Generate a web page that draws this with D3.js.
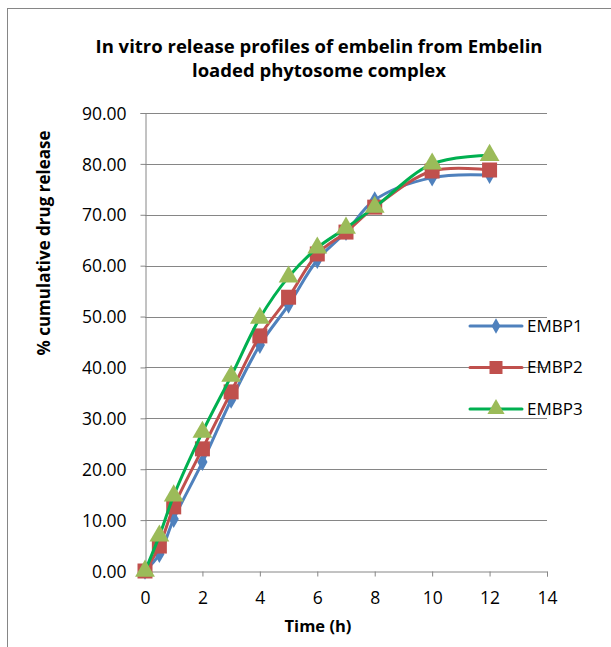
<!DOCTYPE html>
<html>
<head>
<meta charset="utf-8">
<script src="https://cdn.jsdelivr.net/npm/d3@7"></script>
<style>
  body { margin: 0; background: #fff; }
  text { font-family: "Open Sans", "Noto Sans", sans-serif; fill: #000; }
</style>
</head>
<body>
<div id="chart"></div>
<script>
// Data
const hours = [0, 0.5, 1, 2, 3, 4, 5, 6, 7, 8, 10, 12];
const embp1 = [0, 3.3, 10.2, 21.4, 33.6, 44.4, 52.3, 61.1, 66.6, 72.9, 77.3, 77.8];
const embp2 = [0, 4.9, 12.6, 24.0, 35.2, 46.2, 53.8, 62.3, 66.6, 71.5, 78.6, 78.8];
const embp3 = [0, 6.9, 14.8, 27.3, 38.3, 49.7, 57.8, 63.5, 67.4, 71.5, 80.0, 81.7];
const seriesNames = ['EMBP1', 'EMBP2', 'EMBP3'];
const xTicks = [0, 2, 4, 6, 8, 10, 12, 14];
const yTicks = [0, 10, 20, 30, 40, 50, 60, 70, 80, 90];

const width = 611, height = 647;
const svg = d3.select('#chart').append('svg')
  .attr('width', width).attr('height', height);

// outer chart border
svg.append('rect')
  .attr('x', 7.5).attr('y', 8.5)
  .attr('width', 700).attr('height', 700)
  .attr('fill', 'none').attr('stroke', '#868686');

const x = d3.scaleLinear().domain([0, 14]).range([145, 547]);
const y = d3.scaleLinear().domain([0, 90]).range([571, 113]);
const grey = '#868686';

// gridlines
svg.append('g').selectAll('line').data(yTicks.slice(1)).enter().append('line')
  .attr('x1', x(0)).attr('x2', x(14))
  .attr('y1', d => Math.round(y(d)) + 0.5).attr('y2', d => Math.round(y(d)) + 0.5)
  .attr('stroke', grey);

// axes
const yAxis = svg.append('g').attr('transform', 'translate(' + (x(0) + 0.5) + ',0)')
  .call(d3.axisLeft(y).tickValues(yTicks).tickSize(5).tickFormat(d3.format('.2f')));
const xAxis = svg.append('g').attr('transform', 'translate(0,' + (y(0) + 0.5) + ')')
  .call(d3.axisBottom(x).tickValues(xTicks).tickSize(5).tickFormat(d3.format('d')));
[yAxis, xAxis].forEach(function (ax) {
  ax.select('.domain').attr('stroke', grey);
  ax.selectAll('.tick line').attr('stroke', grey);
  ax.selectAll('.tick text').style('font-size', '17.5px')
    .style('font-family', '"Open Sans", sans-serif').attr('fill', '#000');
});
yAxis.selectAll('.tick text').attr('x', -19).attr('dy', '0.35em');
xAxis.selectAll('.tick text').attr('y', 20);

// titles
const title = svg.append('text')
  .attr('x', 319).attr('text-anchor', 'middle')
  .style('font-size', '18.5px').style('font-weight', 'bold');
title.append('tspan').attr('x', 319).attr('y', 53).text('In vitro release profiles of embelin from Embelin');
title.append('tspan').attr('x', 319).attr('y', 77).text('loaded phytosome complex');

svg.append('text')
  .attr('x', 318).attr('y', 632).attr('text-anchor', 'middle')
  .style('font-size', '16.5px').style('font-weight', 'bold')
  .text('Time (h)');

svg.append('text')
  .attr('transform', 'translate(50,' + 243 + ')rotate(-90)')
  .attr('text-anchor', 'middle')
  .style('font-size', '17px').style('font-weight', 'bold')
  .text('% cumulative drug release');

// series
const series = [
  { name: seriesNames[0], values: embp1, line: '#4F81BD', fill: '#4F81BD', shape: d3.symbolDiamond, size: 90 },
  { name: seriesNames[1], values: embp2, line: '#C0504D', fill: '#C0504D', shape: d3.symbolSquare, size: 225 },
  { name: seriesNames[2], values: embp3, line: '#00B050', fill: '#9BBB59', shape: d3.symbolTriangle, size: 170 }
];

const line = d3.line()
  .x(d => x(d[0])).y(d => y(d[1]))
  .curve(d3.curveCatmullRom.alpha(0.5));

series.forEach(function (s) {
  const pts = hours.map((h, i) => [h, s.values[i]]);
  const g = svg.append('g');
  g.append('path').datum(pts)
    .attr('d', line)
    .attr('fill', 'none').attr('stroke', s.line)
    .attr('stroke-width', 3).attr('stroke-linejoin', 'round').attr('stroke-linecap', 'round');
  g.selectAll('path.m').data(pts).enter().append('path')
    .attr('class', 'm')
    .attr('d', d3.symbol().type(s.shape).size(s.size))
    .attr('transform', d => 'translate(' + x(d[0]) + ',' + y(d[1]) + ')')
    .attr('fill', s.fill);
});

// legend
const legend = svg.append('g');
series.forEach(function (s, i) {
  const ly = 326 + i * 41.5;
  legend.append('line')
    .attr('x1', 470).attr('x2', 522).attr('y1', ly).attr('y2', ly)
    .attr('stroke', s.line).attr('stroke-width', 3).attr('stroke-linecap', 'round');
  legend.append('path')
    .attr('d', d3.symbol().type(s.shape).size(s.size * 0.75))
    .attr('transform', 'translate(496,' + ly + ')')
    .attr('fill', s.fill);
  legend.append('text')
    .attr('x', 527).attr('y', ly).attr('dy', '0.35em')
    .style('font-size', '17px')
    .text(s.name);
});
</script>
</body>
</html>
